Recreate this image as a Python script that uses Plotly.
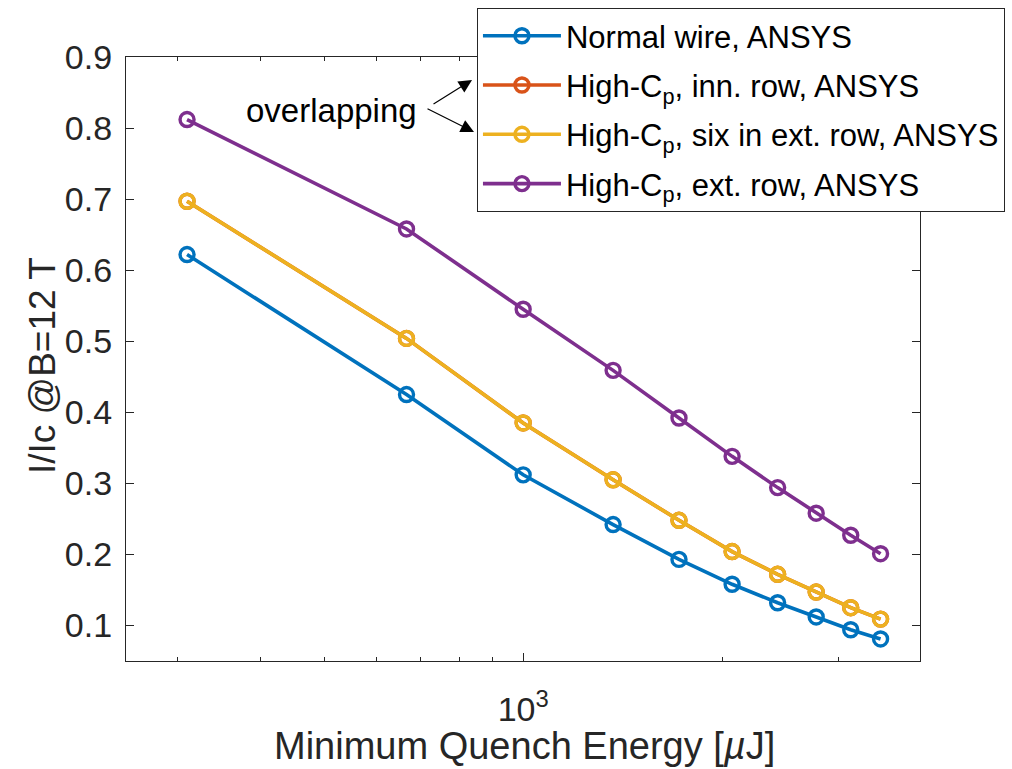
import plotly.graph_objects as go

# Minimum quench energy (µJ) and normalised current I/Ic at B = 12 T
mqe_uj = [310, 666, 1000, 1368, 1721, 2071, 2427, 2776, 3131, 3474]
normal_wire = [0.622, 0.425, 0.312, 0.242, 0.193, 0.158, 0.132, 0.112, 0.094, 0.081]
highcp_inner = [0.697, 0.504, 0.385, 0.305, 0.248, 0.204, 0.172, 0.147, 0.125, 0.109]
highcp_six_ext = [0.697, 0.504, 0.385, 0.305, 0.248, 0.204, 0.172, 0.147, 0.125, 0.109]
highcp_ext = [0.812, 0.658, 0.545, 0.459, 0.392, 0.338, 0.294, 0.258, 0.227, 0.201]

series_names = [
    "Normal wire, ANSYS",
    "High-C<sub>p</sub>, inn. row, ANSYS",
    "High-C<sub>p</sub>, six in ext. row, ANSYS",
    "High-C<sub>p</sub>, ext. row, ANSYS",
]
series_values = [normal_wire, highcp_inner, highcp_six_ext, highcp_ext]
series_colors = ["#0072BD", "#D95319", "#EDB120", "#7E2F8E"]

minor_x_ticks = [300, 400, 500, 600, 700, 800, 900, 2000, 3000]

x_title = "Minimum Quench Energy [<i>µ</i>J]"
y_title = "I/Ic @B=12 T"

FONT = "Arial, 'Liberation Sans', Helvetica, sans-serif"
AXIS = "#262626"

fig = go.Figure()
for i, (name, vals, col) in enumerate(zip(series_names, series_values, series_colors)):
    fig.add_trace(go.Scatter(
        x=mqe_uj, y=vals, name=name, mode="lines+markers",
        line=dict(color=col, width=3.6),
        marker=dict(symbol="circle-open", size=14, color=col, line=dict(width=3.4)),
        legendgroup=f"g{i}",
    ))

fig.update_layout(
    width=1012, height=769,
    margin=dict(l=126, r=92, t=57, b=108, autoexpand=False),
    paper_bgcolor="white", plot_bgcolor="white",
    font=dict(family=FONT, size=34, color="#262626"),
    showlegend=True,
    legend=dict(
        xref="container", yref="container",
        x=0.4713, y=0.9895, xanchor="left", yanchor="top",
        bgcolor="white", bordercolor=AXIS, borderwidth=1,
        font=dict(family=FONT, size=31, color="black"),
        traceorder="grouped", tracegroupgap=6, itemwidth=78,
    ),
)

fig.update_xaxes(
    type="log", range=[2.399, 3.6005],
    tickvals=[1000], ticktext=["10<sup>3</sup>"],
    ticks="inside", ticklen=8, tickwidth=1, tickcolor=AXIS,
    ticklabelstandoff=18,
    showline=True, linecolor=AXIS, linewidth=1.3, mirror="ticks",
    showgrid=False, zeroline=False,
    minor=dict(tickvals=minor_x_ticks, ticks="inside", ticklen=4,
               tickwidth=1, tickcolor=AXIS, showgrid=False),
)
fig.update_yaxes(
    range=[0.05, 0.9], tick0=0.1, dtick=0.1, tickformat=".1f",
    ticks="inside", ticklen=8, tickwidth=1, tickcolor=AXIS,
    ticklabelstandoff=6,
    showline=True, linecolor=AXIS, linewidth=1.3, mirror="ticks",
    showgrid=False, zeroline=False,
)

# axis titles
fig.add_annotation(
    text=x_title, xref="paper", yref="paper", x=0.5025, y=-0.141,
    xanchor="center", yanchor="middle", showarrow=False,
    font=dict(family=FONT, size=38, color="#262626"),
)
fig.add_annotation(
    text=y_title, xref="paper", yref="paper", x=-0.1058, y=0.49,
    xanchor="center", yanchor="middle", textangle=-90, showarrow=False,
    font=dict(family=FONT, size=37, color="#262626"),
)

# label and arrows pointing at the two coincident legend entries
fig.add_annotation(
    text="overlapping", xref="paper", yref="paper",
    x=0.2594, y=0.9106, xanchor="center", yanchor="middle", showarrow=False,
    font=dict(family=FONT, size=33, color="black"),
)
fig.add_annotation(
    text="", xref="paper", yref="paper", x=0.4358, y=0.9619,
    ax=-40, ay=25, showarrow=True, arrowhead=2, arrowsize=2.2,
    arrowwidth=1.2, arrowcolor="black",
)
fig.add_annotation(
    text="", xref="paper", yref="paper", x=0.4383, y=0.8758,
    ax=-48, ay=-24, showarrow=True, arrowhead=2, arrowsize=2.2,
    arrowwidth=1.2, arrowcolor="black",
)

fig.write_html("out.html")
